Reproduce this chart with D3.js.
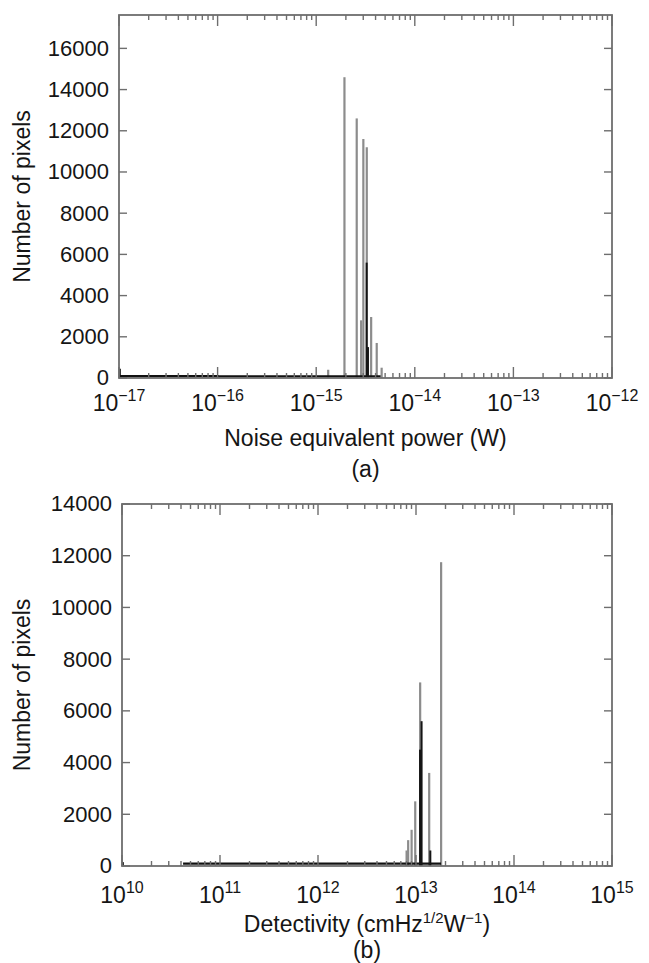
<!DOCTYPE html>
<html><head><meta charset="utf-8">
<script src="https://cdn.jsdelivr.net/npm/d3@7"></script>
<style>body{margin:0;background:#fff}svg{display:block}text{font-family:"Liberation Sans",Arial,sans-serif;fill:#151515}</style>
</head><body>
<svg id="c" width="649" height="963"></svg>
<script>
// ---- data ----
const npeDecades = [-17, -16, -15, -14, -13, -12];
const npeYTicks = [0, 2000, 4000, 6000, 8000, 10000, 12000, 14000, 16000];
const npeGrayX = [1.32e-15, 1.93e-15, 2.57e-15, 2.85e-15, 3.0e-15, 3.25e-15, 3.6e-15, 4.1e-15, 4.6e-15];
const npeGrayY = [400, 14600, 12600, 2800, 11600, 11200, 2960, 1700, 500];
const npeBlackX = [1.02e-17, 3.25e-15, 3.35e-15];
const npeBlackY = [450, 5600, 1500];
const npeBaseX = [1.0e-17, 1.0e-16, 1.0e-15, 4.5e-15];
const npeBaseY = [90, 80, 80, 80];

const detDecades = [10, 11, 12, 13, 14, 15];
const detYTicks = [0, 2000, 4000, 6000, 8000, 10000, 12000, 14000];
const detGrayX = [8.0e12, 8.3e12, 9.0e12, 9.8e12, 1.1e13, 1.36e13, 1.8e13];
const detGrayY = [600, 1000, 1400, 2500, 7100, 3600, 11750];
const detBlackX = [1.02e10, 1.1e13, 1.14e13, 1.4e13];
const detBlackY = [150, 4500, 5600, 600];
const detBaseX = [4.2e10, 1.0e11, 1.0e12, 1.8e13];
const detBaseY = [90, 90, 90, 90];

const svg = d3.select("#c");

function panel(o) {
  const g = svg.append("g");
  const x = d3.scaleLog().domain([Math.pow(10, o.decades[0]), Math.pow(10, o.decades[o.decades.length - 1])]).range([o.left, o.right]);
  const y = d3.scaleLinear().domain([0, o.ymax]).range([o.bottom, o.top]);

  // gray histogram spikes
  g.selectAll("rect.gray").data(d3.zip(o.grayX, o.grayY)).join("rect")
    .attr("x", d => x(d[0]) - 1).attr("width", 2.2)
    .attr("y", d => y(d[1])).attr("height", d => y(0) - y(d[1]))
    .attr("fill", "#8c8c8c");
  // black baseline
  g.append("path").datum(d3.zip(o.baseX, o.baseY))
    .attr("d", d3.line().x(d => x(d[0])).y(d => y(d[1])).curve(d3.curveStepAfter))
    .attr("fill", "none").attr("stroke", "#111").attr("stroke-width", 2.4);
  // black spikes
  g.selectAll("rect.black").data(d3.zip(o.blackX, o.blackY)).join("rect")
    .attr("x", d => x(d[0]) - 1).attr("width", 2)
    .attr("y", d => y(d[1])).attr("height", d => y(0) - y(d[1]))
    .attr("fill", "#151515");

  // frame
  g.append("rect").attr("x", o.left).attr("y", o.top).attr("width", o.right - o.left).attr("height", o.bottom - o.top)
    .attr("fill", "none").attr("stroke", "#6e6e6e").attr("stroke-width", 1.8);

  // x ticks (major + minor), inward on bottom and top
  const xt = [];
  for (let i = 0; i < o.decades.length - 1; i++) {
    for (let k = 1; k <= 9; k++) xt.push({v: k * Math.pow(10, o.decades[i]), major: k === 1});
  }
  xt.push({v: Math.pow(10, o.decades[o.decades.length - 1]), major: true});
  const tk = g.append("g").attr("stroke", "#6e6e6e").attr("stroke-width", 1.4);
  xt.forEach(t => {
    const L = t.major ? 11 : 5;
    const px = x(t.v);
    tk.append("line").attr("x1", px).attr("x2", px).attr("y1", o.bottom).attr("y2", o.bottom - L);
    tk.append("line").attr("x1", px).attr("x2", px).attr("y1", o.top).attr("y2", o.top + L);
  });
  o.yticks.forEach(v => {
    tk.append("line").attr("x1", o.left).attr("x2", o.left + 8).attr("y1", y(v)).attr("y2", y(v));
    tk.append("line").attr("x1", o.right).attr("x2", o.right - 8).attr("y1", y(v)).attr("y2", y(v));
  });

  // y tick labels
  g.selectAll("text.yl").data(o.yticks).join("text")
    .attr("x", o.left - 10).attr("y", d => y(d)).attr("dy", "0.34em")
    .attr("text-anchor", "end").attr("font-size", 22).text(d => d);

  // x tick labels
  o.decades.forEach(dec => {
    const t = g.append("text").attr("x", x(Math.pow(10, dec))).attr("y", o.xlabY)
      .attr("text-anchor", "middle").attr("font-size", 23);
    t.append("tspan").text("10");
    t.append("tspan").attr("dy", -10).attr("font-size", 16).text(String(dec).replace("-", "\u2212"));
  });

  // axis titles
  const tt = g.append("text").attr("x", (o.left + o.right) / 2).attr("y", o.titleY)
    .attr("text-anchor", "middle").attr("font-size", 23);
  o.title.forEach(p => {
    const s = tt.append("tspan").text(p.t);
    if (p.sup) s.attr("dy", -9).attr("font-size", 15);
    if (p.down) s.attr("dy", 9);
  });
  g.append("text").attr("transform", `translate(${o.ylabX},${(o.top + o.bottom) / 2}) rotate(-90)`)
    .attr("text-anchor", "middle").attr("font-size", 23).text("Number of pixels");
  g.append("text").attr("x", (o.left + o.right) / 2).attr("y", o.tagY)
    .attr("text-anchor", "middle").attr("font-size", 23).text(o.tag);
}

panel({
  left: 119, right: 612, top: 15, bottom: 378, ymax: 17620,
  decades: npeDecades, yticks: npeYTicks,
  grayX: npeGrayX, grayY: npeGrayY, blackX: npeBlackX, blackY: npeBlackY,
  baseX: npeBaseX, baseY: npeBaseY,
  xlabY: 411, titleY: 446, tagY: 477, ylabX: 30,
  title: [{t: "Noise equivalent power (W)"}], tag: "(a)"
});
panel({
  left: 122, right: 612, top: 504, bottom: 866, ymax: 14000,
  decades: detDecades, yticks: detYTicks,
  grayX: detGrayX, grayY: detGrayY, blackX: detBlackX, blackY: detBlackY,
  baseX: detBaseX, baseY: detBaseY,
  xlabY: 903, titleY: 932, tagY: 958, ylabX: 30,
  title: [{t: "Detectivity (cmHz"}, {t: "1/2", sup: true}, {t: "W", down: true}, {t: "\u22121", sup: true}, {t: ")", down: true}],
  tag: "(b)"
});
</script>
</body></html>
